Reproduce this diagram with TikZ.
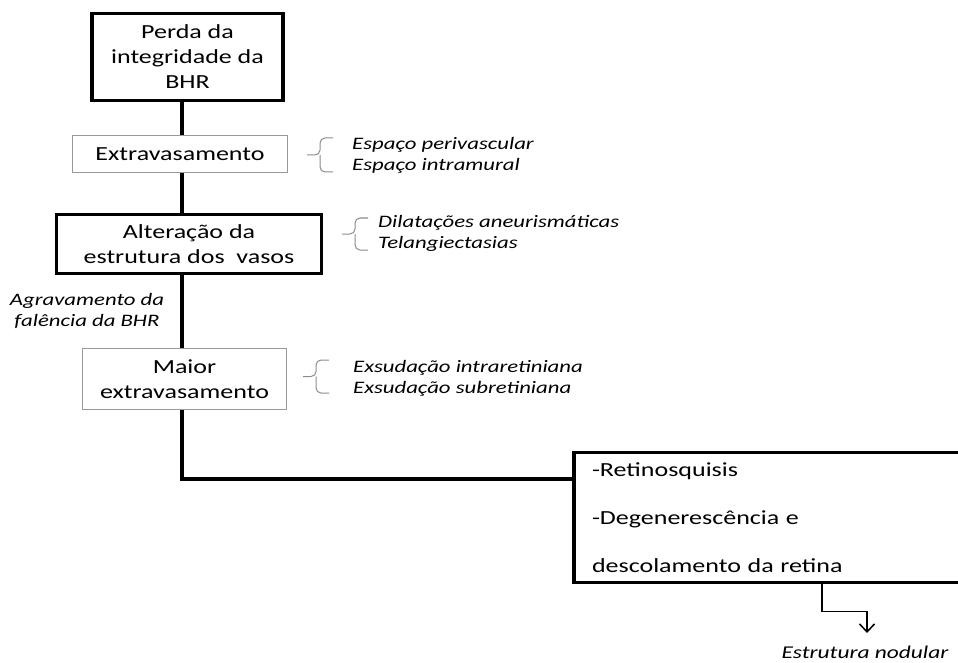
\documentclass[tikz,border=0pt]{standalone}
\usepackage{fontspec}
\setmainfont{Carlito}[FakeStretch=1.3]
\usetikzlibrary{arrows.meta}

% curly bracket: tip x, top y, bottom y
\newcommand{\curly}[3]{\draw[bracket] (#1+26,#2) -- (#1+13,#2) -- (#1+13,{(#2+#3)/2}) -- (#1,{(#2+#3)/2})
                            (#1+13,{(#2+#3)/2}) -- (#1+13,#3) -- (#1+26,#3);}
\tikzset{
            heavy/.style={draw, line width=3.5pt, align=center},
            light/.style={draw=black!40, line width=1.2pt, align=center},
            trunk/.style={line width=4pt},
            bracket/.style={draw=black!45, line width=1pt, rounded corners=5pt},
            note/.style={font=\itshape\fontsize{17.5}{21}\selectfont, align=left, anchor=west},
            link/.style={line width=1.5pt, -{Straight Barb[length=8pt,width=15pt]}}
        }

\begin{document}
\begin{tikzpicture}[x=1pt, y=-1pt,
                    every node/.style={font=\fontsize{20}{25}\selectfont, inner sep=0pt}
                    ]
    \path[use as bounding box, clip] (0,0) rectangle (958,663);
    \coordinate (trunk) at (182,0);
    \coordinate (drop) at (822,0);
    \coordinate (tip) at (867,633);

    \node[heavy, minimum width=191, minimum height=87] (perda) at (187.5,57) {Perda da\\integridade da\\BHR};
    \node[light, minimum width=215, minimum height=37] (extra) at (180,154) {Extravasamento};
    \node[heavy, minimum width=265, minimum height=59] (alter) at (189,244) {Altera\c{c}\~ao da\\estrutura dos\ \ vasos};
    \node[light, minimum width=204, minimum height=61] (maior) at (184.5,379) {Maior\\extravasamento};
    \node[heavy, align=left, text width=380, inner xsep=18pt, minimum height=130] (ret) at (782,517.5)
        {-Retinosquisis\\[23pt]-Degeneresc\^encia e\\[23pt]descolamento da retina};

    \node[note, align=center, anchor=center] (agrav) at (87,311) {Agravamento da\\fal\^encia da BHR};
    \node[note] (espaco) at (352,155) {Espa\c{c}o perivascular\\Espa\c{c}o intramural};
    \node[note] (dilat) at (378,233) {Dilata\c{c}\~oes aneurism\'aticas\\Telangiectasias};
    \node[note] (exsud) at (353,378.5) {Exsuda\c{c}\~ao intraretiniana\\Exsuda\c{c}\~ao subretiniana};
    \node[note, anchor=center, font=\itshape\fontsize{18}{22}\selectfont] (nodular) at (865,652) {Estrutura nodular};

    \draw[trunk] (perda.south -| trunk) -- (extra.north -| trunk)
                 (extra.south -| trunk) -- (alter.north -| trunk)
                 (alter.south -| trunk) -- (maior.north -| trunk)
                 (maior.south -| trunk) |- ([yshift=-28pt]ret.north west);
    \draw[link] (ret.south -| drop) -- ++(0,27) -| (tip);

    \curly{307}{138}{172}
    \curly{342}{218}{250}
    \curly{303}{360}{393}
\end{tikzpicture}
\end{document}
